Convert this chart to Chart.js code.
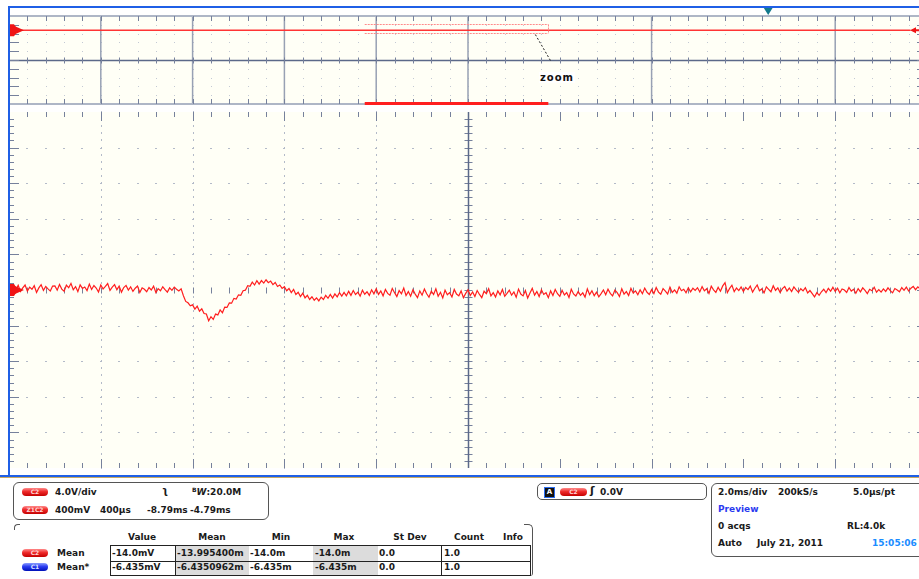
<!doctype html>
<html lang="en"><head>
<meta charset="utf-8"/>
<title>C2 / Z1C2 zoom</title>
<script src="https://cdn.jsdelivr.net/npm/chart.js@4.4.6/dist/chart.umd.min.js"></script>
<style>
  *{box-sizing:border-box}
  html,body{margin:0;width:919px;height:579px;overflow:hidden;background:#fff;font:bold 9px "DejaVu Sans",sans-serif;color:#1a1a1a}
  canvas{position:absolute;left:0}
  #cOver{top:0}
  #cZoom{top:104px}
  .edge{position:absolute;background:#1f5fe6}
  .box{position:absolute;border:1px solid #555;background:transparent}
  .t{position:absolute;white-space:nowrap;line-height:10px}
  .c{transform:translateX(-50%)}
  .pill{position:absolute;width:26px;height:8px;border-radius:4px;color:#ffd6d6;font-size:6px;line-height:8px;text-align:center;
    background:linear-gradient(180deg,#ff8a8a 0%,#ee2a2a 45%,#c40000 100%)}
  .pill.blue{background:linear-gradient(180deg,#8a9cff 0%,#2a3cf0 45%,#0010b8 100%);color:#dde2ff}
  .cell{position:absolute;background:#dcdcdc}
  .ln{position:absolute;background:#222}
  #zoomLbl{position:absolute;left:539px;top:72px;font:bold 10px "DejaVu Sans",sans-serif;letter-spacing:1px;background:#fff;padding:0 1px;color:#111}
</style></head>
<body>
<canvas id="cOver" width="935" height="106"></canvas>
<canvas id="cZoom" width="935" height="372"></canvas>

<div class="edge" style="left:8px;top:6px;width:911px;height:2px"></div>
<div class="edge" style="left:8px;top:6px;width:2px;height:471px"></div>
<div class="edge" style="left:0;top:475px;width:919px;height:2px"></div>
<div style="position:absolute;left:0;top:477px;width:919px;height:1px;background:#c9a860"></div>
<div id="zoomLbl">zoom</div>

<!-- channel box -->
<div class="box" style="left:13px;top:482px;width:256px;height:38px;border-radius:6px"></div>
<div class="pill" style="left:22px;top:488px">C2</div>
<div class="t" style="left:55px;top:487px">4.0V/div</div>
<div class="t" style="left:162px;top:486px;font-size:10px">ʅ</div>
<div class="t" style="left:192px;top:487px"><span style="font-size:6px;position:relative;top:-3px">B</span><i>W</i>:20.0M</div>
<div class="pill" style="left:22px;top:506px">Z1C2</div>
<div class="t" style="left:55px;top:505px">400mV</div>
<div class="t" style="left:100px;top:505px">400µs</div>
<div class="t" style="left:147px;top:505px">-8.79ms</div>
<div class="t" style="left:190px;top:505px">-4.79ms</div>

<!-- measurement table -->
<div style="position:absolute;left:14px;top:524px;width:6px;height:6px;border-left:1px solid #555;border-top:1px solid #555;border-top-left-radius:4px"></div>
<div style="position:absolute;left:524px;top:524px;width:9px;height:52px;border-right:1px solid #555;border-top:1px solid #555;border-top-right-radius:5px;border-bottom-right-radius:3px"></div>
<div class="t c" style="left:142px;top:532px">Value</div>
<div class="t c" style="left:212px;top:532px">Mean</div>
<div class="t c" style="left:281px;top:532px">Min</div>
<div class="t c" style="left:344px;top:532px">Max</div>
<div class="t c" style="left:410px;top:532px">St Dev</div>
<div class="t c" style="left:469px;top:532px">Count</div>
<div class="t c" style="left:513px;top:532px">Info</div>
<div class="cell" style="left:175px;top:545px;width:74px;height:30px"></div>
<div class="cell" style="left:313px;top:545px;width:65px;height:30px"></div>
<div class="ln" style="left:110px;top:545px;width:421px;height:1px"></div>
<div class="ln" style="left:110px;top:561px;width:421px;height:1px"></div>
<div class="ln" style="left:110px;top:575px;width:421px;height:1px"></div>
<div class="ln" style="left:110px;top:545px;width:1px;height:31px"></div>
<div class="ln" style="left:175px;top:545px;width:1px;height:31px"></div>
<div class="ln" style="left:441px;top:545px;width:1px;height:31px"></div>
<div class="ln" style="left:530px;top:545px;width:1px;height:31px"></div>
<div class="pill" style="left:22px;top:549px">C2</div>
<div class="t" style="left:57px;top:548px">Mean</div>
<div class="t" style="left:112px;top:548px">-14.0mV</div>
<div class="t" style="left:177px;top:548px">-13.995400m</div>
<div class="t" style="left:250px;top:548px">-14.0m</div>
<div class="t" style="left:315px;top:548px">-14.0m</div>
<div class="t" style="left:379px;top:548px">0.0</div>
<div class="t" style="left:444px;top:548px">1.0</div>
<div class="pill blue" style="left:22px;top:563px">C1</div>
<div class="t" style="left:57px;top:562px">Mean*</div>
<div class="t" style="left:112px;top:562px">-6.435mV</div>
<div class="t" style="left:177px;top:562px">-6.4350962m</div>
<div class="t" style="left:250px;top:562px">-6.435m</div>
<div class="t" style="left:315px;top:562px">-6.435m</div>
<div class="t" style="left:379px;top:562px">0.0</div>
<div class="t" style="left:444px;top:562px">1.0</div>

<!-- trigger box -->
<div class="box" style="left:537px;top:483px;width:170px;height:17px;border-radius:5px"></div>
<div style="position:absolute;left:545px;top:488px;width:9px;height:9px;background:#111;outline:1px solid #2a6cf0;color:#fff;font-size:7px;line-height:9px;text-align:center">A</div>
<div class="pill" style="left:560px;top:488px;width:27px">C2</div>
<div class="t" style="left:590px;top:486px;font-size:11px">ʃ</div>
<div class="t" style="left:600px;top:487px">0.0V</div>

<!-- timebase box -->
<div class="box" style="left:711px;top:483px;width:215px;height:74px;border-radius:6px"></div>
<div class="t" style="left:718px;top:487px">2.0ms/div</div>
<div class="t" style="left:778px;top:487px">200kS/s</div>
<div class="t" style="left:853px;top:487px">5.0µs/pt</div>
<div class="t" style="left:718px;top:504px;color:#2a3af0">Preview</div>
<div class="t" style="left:718px;top:521px">0 acqs</div>
<div class="t" style="left:847px;top:521px">RL:4.0k</div>
<div class="t" style="left:718px;top:538px">Auto</div>
<div class="t" style="left:757px;top:538px">July 21, 2011</div>
<div class="t" style="left:872px;top:538px;color:#1a8cff">15:05:06</div>

<script>
// ---- data ----
// overview (C2, 4.0 V/div, 2.0 ms/div); trigger at 0 ms
const OVER_START_MS = -16.54, OVER_END_MS = 3.46;
const C2_VOLTS_PER_DIV = 4, C2_OFFSET_DIV = 3.38;
const overviewTimesMs = [-16.3, 3.1];
const overviewVolts = [-0.014, -0.014];
const zoomBoxVolts = [-1.3, 2.7];

// zoom Z1C2: 400 mV/div, 400 µs/div, -8.79 ms .. -4.79 ms, one sample every 10 µs
const ZOOM_START_MS = -8.79, ZOOM_END_MS = -4.79, SAMPLE_MS = 0.01;
const ZOOM_MV_PER_DIV = 400;
const zoomBaselineMv = [
  20, -24, 36, 0, 52, -16, 24, 56, -12, 32, 8, 48, -28, 24, 60, -4, 40, 12, -12, 44,
  46, -2, 62, 10, -14, 54, 26, 74, 2, 38, -18, 58, 18, 34, -6, 66, 6, 50, 22, -22,
  56, 12, 40, 72, -4, 32, 60, 4, 44, -24, 28, 52, 0, 36, -16, 20, 44, -28, 24, 8,
  -20, 28, 0, 44, -28, 16, -8, 36, 4, -24, 24, -4, 32, 8
];
const zoomTransientMv = [
  -10, 14, -64, -128, -144, -178,
  -167, -215, -182, -239, -212, -264, -270, -346, -300, -331, -271, -280, -224, -256, -192, -196, -145, -148, -94, -102,
  -54, -59, -8, -2, 49, 41, 88, 56, 104, 66, 106, 78, 115, 82, 100, 60, 84, 40, 56, 18,
  37, -8, 16, -29, 6, -51, -26, -73, -36, -88, -60, -106, -76, -115, -88, -122, -80, -107, -61, -93,
  -50, -91, -44, -77, -30, -69, -27, -65, -15, -60, -6, -51, -24, -69, -2, -47, -20, -61, 2, -43
];
const zoomTailMv = [
  14, -50, -10, -66, 6, -38, -58, 18, -30, -74, -6, -42, 22, -62, -18, -70, 2, -46, -86, -10,
  -58, 10, -42, -82, -14, -50, 14, -70, -26, -90, -2, -54, -30, -78, 6, -46, -66, -10, -86, -38,
  2, -62, -22, -74, -6, -50, -86, -14, -42, 14, -66, -30, -78, -10, -54, 6, -70, -38, -2, -58,
  -22, -82, 10, -46, -66, -6, -90, -34, 18, -58, -18, -74, 2, -50, -30, -86, -10, -62, 6, -42,
  -72, -4, -56, -28, -84, 8, -44, -68, -16, -60, -32, -80, 12, -52, -8, -64, -24, -76, -40, 0,
  -54, 10, -38, -66, -2, -30, -74, 14, -46, -18, -62, 18, -34, -10, -54, 2, -42, 22, -26, -50,
  4, -40, 28, -24, -48, 16, -12, -44, 32, -28, 0, -36, 36, -8, 8, -32, 24, -20, 20, -4,
  26, -22, 38, -10, 14, -38, 42, 2, -26, 30, -14, 46, 82, -30, 18, 54, -18, 22, -6, 34,
  -16, 28, 4, 44, -24, 20, 56, -8, 12, -32, 36, 8, -20, 48, -4, 24, -28, 16, 40, -12,
  22, -18, 34, 2, -26, 14, -10, 26, -34, -6, -40, -78, -30, -60, -20, 8, -30, 18, -14, 30,
  -16, 20, -32, 12, 0, -28, 28, -12, 8, -36, 16, -20, 24, -4, -40, 8, -8, 32, -24, 4,
  -24, 12, -16, 24, -8, -32, 16, 0, -20, 28, -4, 32, -12, 20, 40, 4, 36, 12, 48, 24
];
const zoomMv = zoomBaselineMv.concat(zoomTransientMv, zoomTailMv);
const zoomTimesMs = zoomMv.map((_, i) => +(ZOOM_START_MS + i * SAMPLE_MS).toFixed(3));

// graticule divisions that show as full lines (the others only get ticks)
const LINE_DIVS = [1, 2, 3, 4, 7, 9];

// ---- drawing ----
const BG = '#fffff6', DOT = '#b3bac8', TICK = '#76819c', AXIS = '#5b6989', RED = '#ff1e1e';

function steps(scale, step) {
  const n = Math.round((scale.max - scale.min) / step), out = [];
  for (let k = 0; k <= n; k++) out.push(scale.getPixelForValue(scale.min + k * step));
  return out;
}
function seg(ctx, x1, y1, x2, y2) { ctx.moveTo(x1, y1); ctx.lineTo(x2, y2); }
function chanMarker(ctx, left, y) {
  ctx.fillStyle = '#f01414';
  ctx.beginPath();
  ctx.moveTo(left - 1, y - 6); ctx.lineTo(left + 5, y - 6); ctx.lineTo(left + 9, y);
  ctx.lineTo(left + 5, y + 6); ctx.lineTo(left - 1, y + 6); ctx.closePath(); ctx.fill();
  ctx.beginPath(); ctx.moveTo(left + 6, y - 4); ctx.lineTo(left + 15, y); ctx.lineTo(left + 6, y + 4); ctx.closePath(); ctx.fill();
}

const overviewGrid = {
  id: 'overviewGrid',
  beforeDatasetsDraw(chart) {
    const { ctx, chartArea: a, scales: { x, y } } = chart;
    const xs = steps(x, 0.4), ys = steps(y, C2_VOLTS_PER_DIV);
    const cy = Math.round(ys[5]) + .5;
    ctx.save();
    ctx.fillStyle = BG; ctx.fillRect(a.left, a.top, a.right - a.left, a.bottom - a.top);
    ctx.fillStyle = '#c3c9d4';
    ys.forEach((py, k) => { if (k > 0 && k < 10 && k !== 5) xs.forEach(px => ctx.fillRect(Math.round(px), Math.round(py), 1, 1)); });
    ctx.strokeStyle = '#98a1b4'; ctx.lineWidth = 1.5; ctx.beginPath();
    xs.forEach((px, k) => { if (k % 5 === 0 && (LINE_DIVS.includes(k / 5) || k === 25)) seg(ctx, px, a.top, px, a.bottom); });
    ctx.stroke();
    ctx.strokeStyle = '#aeb6c6'; ctx.lineWidth = 2; ctx.beginPath();
    seg(ctx, a.left, a.top, a.right, a.top); seg(ctx, a.left, a.bottom, a.right, a.bottom); ctx.stroke();
    ctx.strokeStyle = AXIS; ctx.lineWidth = 1.5; ctx.beginPath(); seg(ctx, a.left, cy, a.right, cy); ctx.stroke();
    ctx.strokeStyle = TICK; ctx.lineWidth = 1; ctx.beginPath();
    xs.forEach((px, k) => {
      if (k === 0 || k === xs.length - 1) return;
      const X = Math.round(px) + .5;
      seg(ctx, X, a.top, X, a.top + 5); seg(ctx, X, a.bottom, X, a.bottom - 5); seg(ctx, X, cy - 3, X, cy + 3);
    });
    ys.forEach((py, k) => {
      if (k === 0 || k === 10) return;
      const Y = Math.round(py) + .5;
      seg(ctx, a.left, Y, a.left + 10, Y); seg(ctx, a.right, Y, a.right - 10, Y);
    });
    ctx.stroke();
    ctx.restore();
  },
  afterDatasetsDraw(chart) {
    const { ctx, chartArea: a, scales: { x, y } } = chart;
    const x1 = x.getPixelForValue(ZOOM_START_MS), x2 = x.getPixelForValue(ZOOM_END_MS);
    const yt = Math.round(y.getPixelForValue(zoomBoxVolts[1])) + .5, yb = Math.round(y.getPixelForValue(zoomBoxVolts[0])) + .5;
    ctx.save();
    ctx.strokeStyle = '#ff8a8a'; ctx.lineWidth = 1; ctx.setLineDash([2, 1]); ctx.beginPath();
    seg(ctx, x1, yt, x2, yt); seg(ctx, x1, yb, x2, yb); seg(ctx, Math.round(x2) + .5, yt, Math.round(x2) + .5, yb);
    ctx.stroke();
    ctx.strokeStyle = '#222'; ctx.setLineDash([2, 2]); ctx.beginPath();
    seg(ctx, x2 - 13, yb + 1, x2 + 3, a.top + 46); ctx.stroke();
    ctx.setLineDash([]);
    ctx.fillStyle = RED; ctx.fillRect(x1, a.bottom - 2, x2 - x1, 3);
    const tx = x.getPixelForValue(0);
    ctx.fillStyle = '#12798c'; ctx.beginPath();
    ctx.moveTo(tx - 5, 7); ctx.lineTo(tx + 5, 7); ctx.lineTo(tx, 15); ctx.closePath(); ctx.fill();
    const gy = y.getPixelForValue(0);
    chanMarker(ctx, a.left, gy);
    ctx.fillStyle = '#f01414'; ctx.beginPath();
    ctx.moveTo(910, gy); ctx.lineTo(916, gy - 3); ctx.lineTo(916, gy + 3); ctx.closePath(); ctx.fill();
    ctx.fillRect(915, gy - 1, 4, 2);
    ctx.restore();
  }
};

const zoomGrid = {
  id: 'zoomGrid',
  beforeDatasetsDraw(chart) {
    const { ctx, chartArea: a, scales: { x, y } } = chart;
    const xs = steps(x, 0.08), ys = steps(y, ZOOM_MV_PER_DIV / 5);
    const cx = Math.round(xs[25]) + .5, cy = Math.round(y.getPixelForValue(0)) + .5;
    ctx.save();
    ctx.fillStyle = BG; ctx.fillRect(a.left, a.top, a.right - a.left, a.bottom - a.top);
    ctx.fillStyle = DOT;
    xs.forEach((px, k) => {
      if (k % 5 || !LINE_DIVS.includes(k / 5)) return;
      ys.forEach(py => ctx.fillRect(Math.round(px), Math.round(py) - 1, 1, 2));
    });
    ys.forEach((py, k) => {
      if (k % 5 || k === 0 || k === 25 || k === 50) return;
      xs.forEach(px => ctx.fillRect(Math.round(px) - 1, Math.round(py), 2, 1));
    });
    ctx.strokeStyle = TICK; ctx.lineWidth = 1; ctx.beginPath();
    xs.forEach((px, k) => {
      if (k === 0 || k === xs.length - 1) return;
      const X = Math.round(px) + .5, len = k % 5 ? 5 : 9;
      seg(ctx, X, a.top, X, a.top + len); seg(ctx, X, a.bottom, X, a.bottom - len); seg(ctx, X, cy - 3, X, cy + 3);
    });
    ys.forEach((py, k) => {
      if (k === 0 || k === ys.length - 1) return;
      const Y = Math.round(py) + .5, len = k % 5 ? 5 : 10;
      seg(ctx, a.left, Y, a.left + len, Y); seg(ctx, a.right, Y, a.right - len, Y); seg(ctx, cx - 4, Y, cx + 4, Y);
    });
    ctx.stroke();
    ctx.strokeStyle = AXIS; ctx.lineWidth = 1.5; ctx.beginPath(); seg(ctx, cx, a.top, cx, a.bottom); ctx.stroke();
    ctx.restore();
  },
  afterDatasetsDraw(chart) {
    const { ctx, chartArea: a, scales: { y } } = chart;
    ctx.save(); chanMarker(ctx, a.left, y.getPixelForValue(0)); ctx.restore();
  }
};

const common = {
  animation: false, responsive: false, maintainAspectRatio: false, events: [],
  plugins: { legend: { display: false }, tooltip: { enabled: false } }
};

new Chart(document.getElementById('cOver'), {
  type: 'line',
  data: { datasets: [{ data: overviewTimesMs.map((t, i) => ({ x: t, y: overviewVolts[i] })),
    borderColor: '#ff3434', borderWidth: 1.6, pointRadius: 0 }] },
  options: { ...common,
    layout: { padding: { left: 9, right: 8, top: 16, bottom: 2 } },
    scales: {
      x: { type: 'linear', min: OVER_START_MS, max: OVER_END_MS, display: false },
      y: { type: 'linear', min: (-5 - C2_OFFSET_DIV) * C2_VOLTS_PER_DIV, max: (5 - C2_OFFSET_DIV) * C2_VOLTS_PER_DIV, display: false }
    } },
  plugins: [overviewGrid]
});

new Chart(document.getElementById('cZoom'), {
  type: 'line',
  data: { datasets: [{ data: zoomTimesMs.map((t, i) => ({ x: t, y: zoomMv[i] })),
    borderColor: RED, borderWidth: 1.2, pointRadius: 0, tension: 0 }] },
  options: { ...common,
    layout: { padding: { left: 9, right: 8, top: 8, bottom: 8 } },
    scales: {
      x: { type: 'linear', min: ZOOM_START_MS, max: ZOOM_END_MS, display: false },
      y: { type: 'linear', min: -5 * ZOOM_MV_PER_DIV, max: 5 * ZOOM_MV_PER_DIV, display: false }
    } },
  plugins: [zoomGrid]
});
</script>
</body></html>
